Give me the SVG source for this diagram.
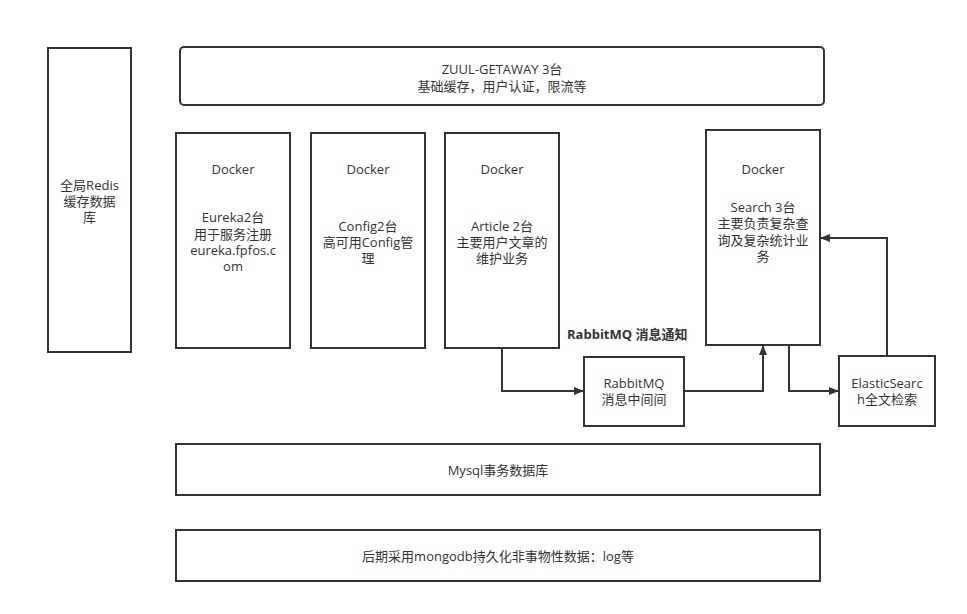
<svg xmlns="http://www.w3.org/2000/svg" width="967" height="614" viewBox="0 0 967 614">
<defs>
<style>
.box{fill:#fff;stroke:#333;stroke-width:2}
.t{font-family:"Open Sans","Noto Sans CJK SC",sans-serif;font-size:13px;fill:#333;text-anchor:middle;dominant-baseline:central}
.b{font-family:"Open Sans","Noto Sans CJK SC",sans-serif;font-size:13px;font-weight:bold;fill:#333}
.c{fill:none;stroke:#333;stroke-width:2}
</style>
<marker id="ah" viewBox="0 0 10 10" refX="9" refY="5" markerWidth="10" markerHeight="10" markerUnits="userSpaceOnUse" orient="auto">
<path d="M0,1 L10,5 L0,9 Z" fill="#333"/>
</marker>
</defs>
<rect width="967" height="614" fill="#fff"/>
<g id="redis"><rect class="box" x="48" y="48" width="83" height="304"/>
<text class="t" x="89.5" y="185">全局Redis</text><text class="t" x="89.5" y="201">缓存数据</text><text class="t" x="89.5" y="217">库</text></g>
<g id="zuul"><rect class="box" x="180" y="47" width="644" height="58" rx="4"/>
<text class="t" x="502" y="69">ZUUL-GETAWAY 3台</text><text class="t" x="502" y="86">基础缓存，用户认证，限流等</text></g>
<g id="eureka"><rect class="box" x="176" y="133" width="114" height="215"/>
<text class="t" x="233" y="169">Docker</text>
<text class="t" x="233" y="217">Eureka2台</text><text class="t" x="233" y="234">用于服务注册</text><text class="t" x="233" y="250">eureka.fpfos.c</text><text class="t" x="233" y="266">om</text></g>
<g id="config"><rect class="box" x="311" y="133" width="114" height="215"/>
<text class="t" x="368" y="169">Docker</text>
<text class="t" x="368" y="226">Config2台</text><text class="t" x="368" y="242">高可用Config管</text><text class="t" x="368" y="258">理</text></g>
<g id="article"><rect class="box" x="445" y="133" width="114" height="215"/>
<text class="t" x="502" y="169">Docker</text>
<text class="t" x="502" y="226">Article 2台</text><text class="t" x="502" y="242">主要用户文章的</text><text class="t" x="502" y="258">维护业务</text></g>
<g id="search"><rect class="box" x="706" y="130" width="114" height="215"/>
<text class="t" x="763" y="169">Docker</text>
<text class="t" x="763" y="207">Search 3台</text><text class="t" x="763" y="223">主要负责复杂查</text><text class="t" x="763" y="240">询及复杂统计业</text><text class="t" x="763" y="256">务</text></g>
<g id="rabbitmq"><rect class="box" x="584" y="357" width="100" height="69"/>
<text class="t" x="634" y="383">RabbitMQ</text><text class="t" x="634" y="399">消息中间间</text></g>
<g id="elastic"><rect class="box" x="839" y="356" width="96" height="70"/>
<text class="t" x="887" y="383">ElasticSearc</text><text class="t" x="887" y="399">h全文检索</text></g>
<g id="mysql"><rect class="box" x="176" y="444" width="644" height="51"/>
<text class="t" x="498" y="470">Mysql事务数据库</text></g>
<g id="mongodb"><rect class="box" x="176" y="530" width="644" height="51"/>
<text class="t" x="498" y="556">后期采用mongodb持久化非事物性数据：log等</text></g>
<g id="connectors">
<path class="c" d="M502,348 V391 H583" marker-end="url(#ah)"/>
<path class="c" d="M684,391 H763 V346" marker-end="url(#ah)"/>
<path class="c" d="M789,345 V391 H838" marker-end="url(#ah)"/>
<path class="c" d="M887,356 V238 H821" marker-end="url(#ah)"/>
<text class="b" x="567" y="339">RabbitMQ 消息通知</text>
</g>
</svg>
